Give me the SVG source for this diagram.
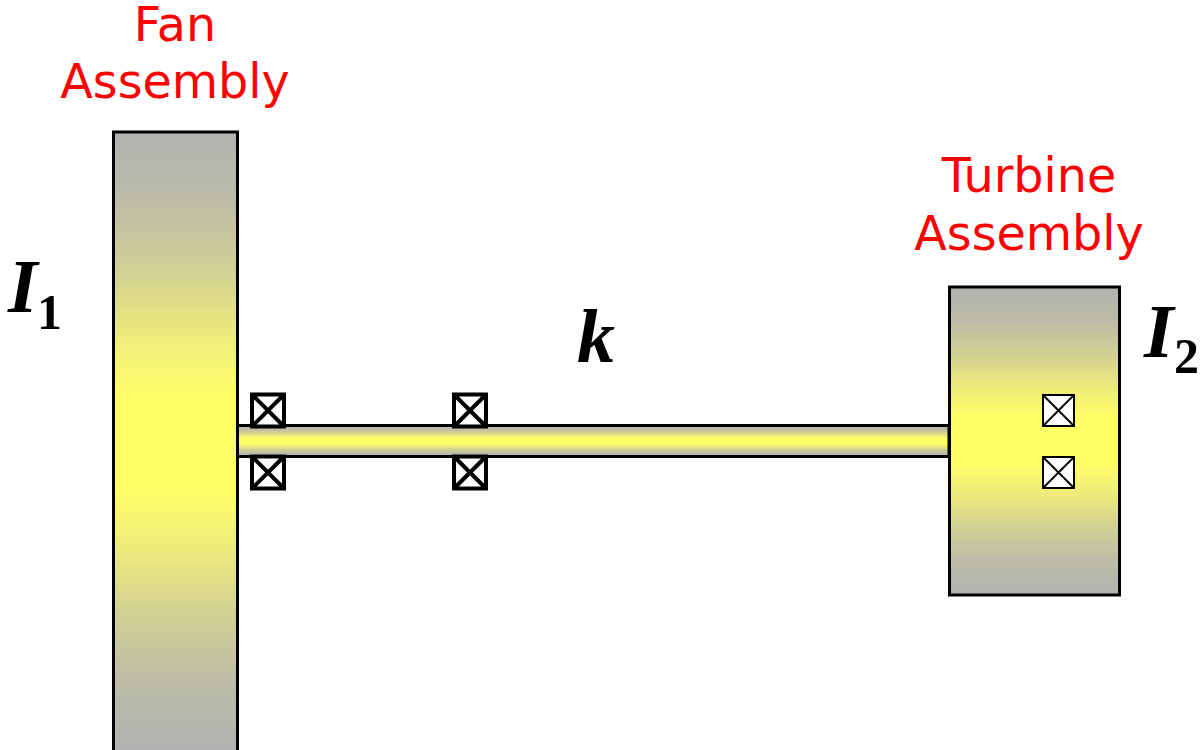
<svg xmlns="http://www.w3.org/2000/svg" width="1201" height="750" viewBox="0 0 1201 750">
<style>
.lab{font-family:"DejaVu Sans",Verdana,sans-serif;font-size:47.600px;fill:#f00;text-anchor:middle}
.sym{font-family:"Liberation Serif","Times New Roman",serif;font-weight:bold;fill:#000}
.body{stroke:#000;stroke-width:3}
.brg{fill:#fff;stroke:#000;stroke-width:4}
.brg2{fill:#fff;stroke:#000;stroke-width:2}
</style>
<defs>
<linearGradient id="g" x1="0" y1="0" x2="0" y2="1">
<stop offset="0" stop-color="#b2b2b2"/>
<stop offset="0.11" stop-color="#bcbca8"/>
<stop offset="0.22" stop-color="#d0d094"/>
<stop offset="0.34" stop-color="#f0ee78"/>
<stop offset="0.43" stop-color="#ffff66"/>
<stop offset="0.57" stop-color="#ffff66"/>
<stop offset="0.66" stop-color="#f0ee78"/>
<stop offset="0.78" stop-color="#d0d094"/>
<stop offset="0.89" stop-color="#bcbca8"/>
<stop offset="1" stop-color="#b2b2b2"/>
</linearGradient>
<symbol id="x" viewBox="0 0 32 32" overflow="visible"><path d="M0 0H32V32H0ZM0 0L32 32M32 0L0 32"/></symbol>
</defs>
<rect width="1201" height="750" fill="#fff"/>
<g id="shaft"><rect class="body" x="237" y="425.500" width="712" height="31" fill="url(#g)"/></g>
<g id="fan"><rect class="body" x="113.500" y="132" width="124" height="620" fill="url(#g)"/>
<text class="lab" x="175" y="41">Fan</text><text class="lab" x="175" y="98">Assembly</text>
<text class="sym" font-style="italic" font-size="76" x="8" y="312">I</text><text class="sym" font-size="50" x="37" y="329">1</text></g>
<g id="turbine"><rect class="body" x="949.500" y="287" width="170" height="308" fill="url(#g)"/>
<text class="lab" x="1029" y="192">Turbine</text><text class="lab" x="1029" y="250">Assembly</text>
<text class="sym" font-style="italic" font-size="76" x="1144" y="357">I</text><text class="sym" font-size="50" x="1174" y="373">2</text></g>
<g id="stiffness"><text class="sym" font-style="italic" font-size="76" x="577" y="362">k</text></g>
<g id="bearings">
<use href="#x" class="brg" x="252" y="394.500" width="32" height="32"/>
<use href="#x" class="brg" x="252" y="456.500" width="32" height="32"/>
<use href="#x" class="brg" x="454" y="394.500" width="32" height="32"/>
<use href="#x" class="brg" x="454" y="456.500" width="32" height="32"/>
<use href="#x" class="brg2" x="1043" y="395" width="31" height="31"/>
<use href="#x" class="brg2" x="1043" y="457" width="31" height="31"/>
</g>
</svg>
